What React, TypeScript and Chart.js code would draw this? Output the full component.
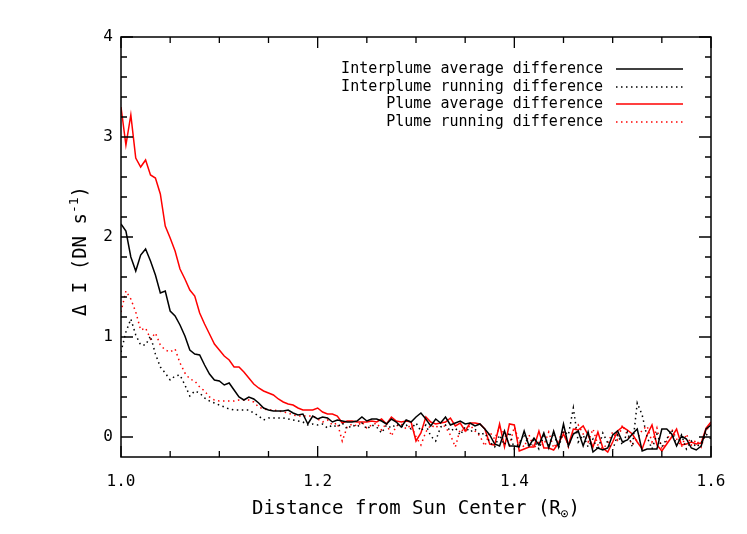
import React, { useEffect, useRef } from "react";
import { Chart, registerables } from "chart.js";

Chart.register(...registerables);

// ---------- data ----------
const distances = [
  1.000, 1.005, 1.010, 1.015, 1.020, 1.025, 1.030, 1.035, 1.040, 1.045,
  1.050, 1.055, 1.060, 1.065, 1.070, 1.075, 1.080, 1.085, 1.090, 1.095,
  1.100, 1.105, 1.110, 1.115, 1.120, 1.125, 1.130, 1.135, 1.140, 1.145,
  1.150, 1.155, 1.160, 1.165, 1.170, 1.175, 1.180, 1.185, 1.190, 1.195,
  1.200, 1.205, 1.210, 1.215, 1.220, 1.225, 1.230, 1.235, 1.240, 1.245,
  1.250, 1.255, 1.260, 1.265, 1.270, 1.275, 1.280, 1.285, 1.290, 1.295,
  1.300, 1.305, 1.310, 1.315, 1.320, 1.325, 1.330, 1.335, 1.340, 1.345,
  1.350, 1.355, 1.360, 1.365, 1.370, 1.375, 1.380, 1.385, 1.390, 1.395,
  1.400, 1.405, 1.410, 1.415, 1.420, 1.425, 1.430, 1.435, 1.440, 1.445,
  1.450, 1.455, 1.460, 1.465, 1.470, 1.475, 1.480, 1.485, 1.490, 1.495,
  1.500, 1.505, 1.510, 1.515, 1.520, 1.525, 1.530, 1.535, 1.540, 1.545,
  1.550, 1.555, 1.560, 1.565, 1.570, 1.575, 1.580, 1.585, 1.590, 1.595,
  1.600,
];

const interplumeAverage = [
  2.13, 2.06, 1.80, 1.66, 1.82, 1.88, 1.76, 1.62, 1.44, 1.46,
  1.26, 1.21, 1.12, 1.01, 0.87, 0.83, 0.82, 0.72, 0.63, 0.57,
  0.56, 0.52, 0.54, 0.47, 0.40, 0.37, 0.40, 0.38, 0.34, 0.29,
  0.27, 0.26, 0.26, 0.26, 0.27, 0.24, 0.22, 0.23, 0.13, 0.21,
  0.18, 0.20, 0.19, 0.15, 0.17, 0.16, 0.15, 0.15, 0.16, 0.20,
  0.16, 0.18, 0.18, 0.16, 0.13, 0.18, 0.15, 0.10, 0.17, 0.15,
  0.20, 0.24, 0.18, 0.11, 0.18, 0.14, 0.20, 0.12, 0.14, 0.16,
  0.13, 0.14, 0.11, 0.13, 0.08, 0.02, -0.07, -0.09, 0.06, -0.09,
  -0.09, -0.10, 0.06, -0.09, -0.01, -0.08, 0.04, -0.11, 0.06, -0.10,
  0.13, -0.09, 0.03, 0.06, -0.09, 0.05, -0.15, -0.11, -0.13, -0.11,
  0.02, 0.06, -0.05, -0.03, 0.03, 0.08, -0.14, -0.12, -0.12, -0.12,
  0.08, 0.08, 0.03, -0.09, 0.01, -0.02, -0.11, -0.13, -0.09, 0.08,
  0.12,
];

const interplumeRunning = [
  0.85, 1.05, 1.18, 1.02, 0.92, 0.92, 1.01, 0.83, 0.70, 0.64,
  0.57, 0.61, 0.62, 0.52, 0.41, 0.46, 0.44, 0.39, 0.36, 0.34,
  0.32, 0.30, 0.28, 0.27, 0.27, 0.27, 0.27, 0.24, 0.21, 0.17,
  0.19, 0.19, 0.19, 0.19, 0.18, 0.17, 0.16, 0.15, 0.12, 0.13,
  0.12, 0.13, 0.09, 0.12, 0.10, 0.14, 0.08, 0.12, 0.10, 0.14,
  0.08, 0.12, 0.10, 0.04, 0.12, 0.09, 0.13, 0.10, 0.12, 0.08,
  0.14, 0.06, 0.12, 0.01, -0.04, 0.10, 0.12, 0.06, 0.09, 0.02,
  0.10, 0.05, 0.08, 0.02, 0.04, -0.05, -0.10, 0.02, -0.08, 0.05,
  -0.12, -0.06, 0.03, -0.10, -0.03, -0.12, 0.01, -0.08, 0.04, -0.11,
  0.06, 0.02, 0.29, -0.05, 0.02, -0.10, -0.02, -0.13, 0.04, -0.06,
  -0.13, 0.02, -0.08, 0.05, -0.10, 0.34, 0.22, 0.00, -0.12, 0.03,
  -0.10, -0.02, 0.07, -0.08, 0.02, -0.12, -0.04, -0.10, -0.06, 0.03,
  -0.02,
];

const plumeAverage = [
  3.30, 2.92, 3.22, 2.79, 2.70, 2.77, 2.62, 2.59, 2.43, 2.11,
  1.99, 1.86, 1.68, 1.58, 1.47, 1.41, 1.24, 1.13, 1.03, 0.93,
  0.87, 0.81, 0.77, 0.70, 0.70, 0.65, 0.59, 0.53, 0.49, 0.46,
  0.44, 0.42, 0.38, 0.35, 0.33, 0.32, 0.29, 0.27, 0.27, 0.27,
  0.29, 0.25, 0.23, 0.23, 0.21, 0.14, 0.16, 0.16, 0.15, 0.15,
  0.15, 0.16, 0.15, 0.18, 0.13, 0.20, 0.16, 0.15, 0.16, 0.15,
  -0.04, 0.04, 0.20, 0.15, 0.13, 0.14, 0.15, 0.19, 0.11, 0.14,
  0.06, 0.14, 0.14, 0.13, 0.08, -0.07, -0.08, 0.13, -0.10, 0.13,
  0.12, -0.14, -0.12, -0.10, -0.10, 0.06, -0.11, -0.11, -0.13, -0.06,
  0.03, -0.08, 0.08, 0.07, 0.11, 0.02, -0.10, 0.05, -0.11, -0.15,
  -0.05, 0.06, 0.10, 0.07, 0.03, -0.05, -0.12, 0.02, 0.12, -0.08,
  -0.14, -0.07, 0.00, 0.08, -0.08, -0.07, -0.05, -0.07, -0.06, 0.09,
  0.15,
];

const plumeRunning = [
  1.25, 1.46, 1.38, 1.25, 1.07, 1.09, 0.98, 1.04, 0.92, 0.87,
  0.85, 0.88, 0.74, 0.64, 0.58, 0.56, 0.50, 0.46, 0.40, 0.37,
  0.36, 0.36, 0.36, 0.36, 0.37, 0.37, 0.37, 0.35, 0.30, 0.28,
  0.27, 0.27, 0.26, 0.25, 0.24, 0.22, 0.21, 0.21, 0.21, 0.21,
  0.18, 0.15, 0.17, 0.12, 0.14, -0.04, 0.10, 0.13, 0.11, 0.15,
  0.09, 0.12, 0.14, 0.07, 0.14, 0.01, 0.11, 0.13, 0.08, 0.12,
  0.00, -0.08, 0.05, 0.12, 0.09, 0.14, 0.10, 0.02, -0.10, 0.08,
  0.05, 0.12, 0.06, 0.01, -0.09, 0.05, -0.02, 0.10, 0.03, -0.08,
  0.10, -0.05, -0.10, 0.02, -0.11, -0.05, -0.08, 0.05, -0.11, -0.03,
  0.07, -0.10, 0.05, 0.12, 0.03, -0.05, 0.08, -0.08, -0.12, -0.06,
  0.05, -0.03, 0.12, 0.02, -0.08, -0.02, 0.07, 0.11, -0.05, 0.09,
  -0.12, -0.04, 0.08, -0.02, -0.10, 0.03, -0.08, -0.03, -0.10, 0.06,
  0.13,
];

const seriesLabels = [
  "Interplume average difference",
  "Interplume running difference",
  "Plume average difference",
  "Plume running difference",
];

const xMajorTicks = [1.0, 1.2, 1.4, 1.6];
const xMinorTicks = [1.05, 1.1, 1.15, 1.25, 1.3, 1.35, 1.45, 1.5, 1.55];
const yMajorTicks = [0, 1, 2, 3, 4];
const yMinorTicks = [
  0.2, 0.4, 0.6, 0.8, 1.2, 1.4, 1.6, 1.8, 2.2, 2.4, 2.6, 2.8, 3.2, 3.4, 3.6, 3.8,
];

const xTitleMain = "Distance from Sun Center (R";
const xTitleSub = "\u2299";
const xTitleEnd = ")";
const yTitleMain = "\u0394 I (DN s";
const yTitleSup = "-1";
const yTitleEnd = ")";

// ---------- styling ----------
const FONT = '"DejaVu Sans Mono", "Liberation Mono", monospace';
const W = 747;
const H = 534;

const toPoints = (ys: number[]) => distances.map((x, i) => ({ x, y: ys[i] }));

const decorPlugin = {
  id: "idlDecor",
  afterDraw(chart: any) {
    const ctx: CanvasRenderingContext2D = chart.ctx;
    const area = chart.chartArea;
    const xs = chart.scales.x;
    const ys = chart.scales.y;
    ctx.save();
    ctx.strokeStyle = "#000";
    ctx.lineWidth = 1.5;
    ctx.strokeRect(area.left, area.top, area.right - area.left, area.bottom - area.top);

    ctx.lineWidth = 1.3;
    const xTick = (v: number, len: number) => {
      const px = xs.getPixelForValue(v);
      ctx.beginPath();
      ctx.moveTo(px, area.bottom);
      ctx.lineTo(px, area.bottom - len);
      ctx.moveTo(px, area.top);
      ctx.lineTo(px, area.top + len);
      ctx.stroke();
    };
    const yTick = (v: number, len: number) => {
      const py = ys.getPixelForValue(v);
      ctx.beginPath();
      ctx.moveTo(area.left, py);
      ctx.lineTo(area.left + len, py);
      ctx.moveTo(area.right, py);
      ctx.lineTo(area.right - len, py);
      ctx.stroke();
    };
    xMajorTicks.forEach((v) => xTick(v, 11));
    xMinorTicks.forEach((v) => xTick(v, 6));
    yMajorTicks.forEach((v) => yTick(v, 12));
    yMinorTicks.forEach((v) => yTick(v, 6));

    // legend
    ctx.font = `15px ${FONT}`;
    ctx.fillStyle = "#000";
    ctx.textAlign = "right";
    ctx.textBaseline = "middle";
    const legendY = [69, 87, 104, 122];
    chart.data.datasets.forEach((ds: any, i: number) => {
      const y = legendY[i];
      ctx.fillStyle = "#000";
      ctx.fillText(ds.label, 603, y);
      ctx.beginPath();
      ctx.strokeStyle = ds.borderColor;
      ctx.lineWidth = ds.borderWidth;
      ctx.setLineDash(ds.borderDash || []);
      ctx.moveTo(616, y);
      ctx.lineTo(683, y);
      ctx.stroke();
      ctx.setLineDash([]);
    });

    // x title with subscript
    ctx.fillStyle = "#000";
    ctx.textAlign = "left";
    ctx.textBaseline = "alphabetic";
    const bigFont = `19px ${FONT}`;
    const smallFont = `13px ${FONT}`;
    ctx.font = bigFont;
    const w1 = ctx.measureText(xTitleMain).width;
    const w3 = ctx.measureText(xTitleEnd).width;
    ctx.font = smallFont;
    const w2 = ctx.measureText(xTitleSub).width;
    const cx = (area.left + area.right) / 2;
    let x0 = cx - (w1 + w2 + w3) / 2;
    const base = 514;
    ctx.font = bigFont;
    ctx.fillText(xTitleMain, x0, base);
    ctx.font = smallFont;
    ctx.fillText(xTitleSub, x0 + w1, base + 4);
    ctx.font = bigFont;
    ctx.fillText(xTitleEnd, x0 + w1 + w2, base);

    // y title with superscript (rotated)
    ctx.font = bigFont;
    const v1 = ctx.measureText(yTitleMain).width;
    const v3 = ctx.measureText(yTitleEnd).width;
    ctx.font = smallFont;
    const v2 = ctx.measureText(yTitleSup).width;
    const cy = (area.top + area.bottom) / 2 + 4;
    ctx.translate(86, cy);
    ctx.rotate(-Math.PI / 2);
    const s0 = -(v1 + v2 + v3) / 2;
    ctx.font = bigFont;
    ctx.fillText(yTitleMain, s0, 0);
    ctx.font = smallFont;
    ctx.fillText(yTitleSup, s0 + v1, -8);
    ctx.font = bigFont;
    ctx.fillText(yTitleEnd, s0 + v1 + v2, 0);
    ctx.restore();
  },
};

export default function App() {
  const canvasRef = useRef<HTMLCanvasElement | null>(null);

  useEffect(() => {
    if (!canvasRef.current) return;
    const chart = new Chart(canvasRef.current, {
      type: "line",
      data: {
        datasets: [
          {
            label: seriesLabels[0],
            data: toPoints(interplumeAverage),
            borderColor: "#000000",
            borderWidth: 1.5,
            pointRadius: 0,
            tension: 0,
          },
          {
            label: seriesLabels[1],
            data: toPoints(interplumeRunning),
            borderColor: "#000000",
            borderWidth: 1.5,
            borderDash: [1.5, 3.5],
            pointRadius: 0,
            tension: 0,
          },
          {
            label: seriesLabels[2],
            data: toPoints(plumeAverage),
            borderColor: "#ff0000",
            borderWidth: 1.5,
            pointRadius: 0,
            tension: 0,
          },
          {
            label: seriesLabels[3],
            data: toPoints(plumeRunning),
            borderColor: "#ff0000",
            borderWidth: 1.5,
            borderDash: [1.5, 3.5],
            pointRadius: 0,
            tension: 0,
          },
        ],
      },
      options: {
        animation: false,
        responsive: false,
        devicePixelRatio: 1,
        layout: { padding: { top: 37, right: 36, left: 0, bottom: 0 } },
        plugins: {
          legend: { display: false },
          tooltip: { enabled: false },
        },
        scales: {
          x: {
            type: "linear",
            min: 1.0,
            max: 1.6,
            grid: { display: false, drawTicks: false },
            border: { display: false },
            afterBuildTicks: (scale: any) => {
              scale.ticks = xMajorTicks.map((v) => ({ value: v }));
            },
            afterFit: (scale: any) => {
              scale.height = H - 457;
            },
            ticks: {
              padding: 15,
              color: "#000",
              font: { family: FONT, size: 16 },
              maxRotation: 0,
              callback: (v: any) => Number(v).toFixed(1),
            },
          },
          y: {
            type: "linear",
            min: -0.2,
            max: 4,
            grid: { display: false, drawTicks: false },
            border: { display: false },
            afterBuildTicks: (scale: any) => {
              scale.ticks = yMajorTicks.map((v) => ({ value: v }));
            },
            afterFit: (scale: any) => {
              scale.width = 121;
            },
            ticks: {
              padding: 8,
              color: "#000",
              font: { family: FONT, size: 16 },
              callback: (v: any) => String(Math.round(Number(v))),
            },
          },
        },
      },
      plugins: [decorPlugin],
    });
    return () => chart.destroy();
  }, []);

  return (
    <div style={{ position: "absolute", left: 0, top: 0, width: W, height: H, background: "#fff" }}>
      <canvas ref={canvasRef} width={W} height={H} style={{ width: W, height: H, display: "block" }} />
    </div>
  );
}
